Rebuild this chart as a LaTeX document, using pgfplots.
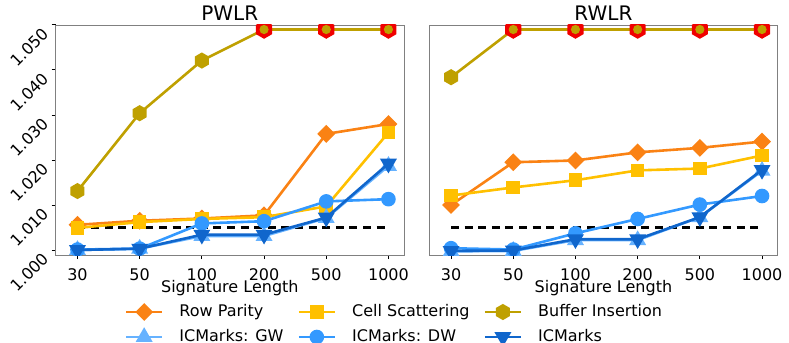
\documentclass[border=0pt]{standalone}
\usepackage{fontspec}
\setmainfont{DejaVu Sans}
\usepackage{pgfplots}
\usepackage{pgfplotstable}
\pgfplotsset{compat=1.18}

\definecolor{rpcol}{RGB}{250,130,20}
\definecolor{cscol}{RGB}{255,192,0}
\definecolor{bicol}{RGB}{191,160,0}
\definecolor{gwcol}{RGB}{102,178,255}
\definecolor{dwcol}{RGB}{51,153,255}
\definecolor{iccol}{RGB}{16,102,204}
\definecolor{capred}{RGB}{240,0,0}

% pointy-top hexagon, like matplotlib's 'h'
\pgfdeclareplotmark{hexa*}{%
  \pgfpathmoveto{\pgfqpointpolar{90}{\pgfplotmarksize}}%
  \pgfpathlineto{\pgfqpointpolar{150}{\pgfplotmarksize}}%
  \pgfpathlineto{\pgfqpointpolar{210}{\pgfplotmarksize}}%
  \pgfpathlineto{\pgfqpointpolar{270}{\pgfplotmarksize}}%
  \pgfpathlineto{\pgfqpointpolar{330}{\pgfplotmarksize}}%
  \pgfpathlineto{\pgfqpointpolar{30}{\pgfplotmarksize}}%
  \pgfpathclose
  \pgfusepathqfillstroke}

% x: 0..5 = 30,50,100,200,500,1000
\pgfplotstableread{
x rp cs bi gw dw ic
0 1.0056 1.0049 1.0131 1.0000 1.0001 1.0000
1 1.0065 1.0062 1.0304 1.0003 1.0003 1.0003
2 1.0070 1.0069 1.0421 1.0031 1.0059 1.0034
3 1.0077 1.0073 1.0490 1.0031 1.0064 1.0034
4 1.0258 1.0097 1.0490 1.0071 1.0108 1.0072
5 1.0280 1.0261 1.0490 1.0187 1.0113 1.0192
}\pwlr

\pgfplotstableread{
x rp cs bi gw dw ic
0 1.0100 1.0121 1.0384 0.9997 1.0004 0.9998
1 1.0195 1.0139 1.0490 0.9998 1.0001 0.9999
2 1.0199 1.0155 1.0490 1.0022 1.0037 1.0024
3 1.0217 1.0177 1.0490 1.0022 1.0069 1.0024
4 1.0227 1.0181 1.0490 1.0073 1.0101 1.0073
5 1.0241 1.0210 1.0490 1.0176 1.0120 1.0178
}\rwlr

\pgfplotsset{
  panel/.style={
    width=174.15pt, height=115pt, scale only axis,
    xmin=-0.35, xmax=5.25, ymin=0.99889, ymax=1.05,
    xtick={0,1,2,3,4,5}, xticklabels={30,50,100,200,500,1000},
    ytick={1.000,1.010,1.020,1.030,1.040,1.050},
    /pgf/number format/.cd, fixed, fixed zerofill, precision=3, assume math mode=true,
    /pgfplots/.cd,
    tick label style={font=\fontsize{8}{9.6}\selectfont},
    xticklabel style={anchor=base, yshift=-10.5pt},
    yticklabel style={rotate=45, anchor=center, xshift=-15.5pt},
    label style={font=\fontsize{8}{9.6}\selectfont},
    xlabel={Signature Length},
    xlabel style={at={(0.5,0)}, anchor=base, yshift=-18.5pt},
    title style={font=\fontsize{10}{12}\selectfont, at={(0.5,1)}, anchor=base, yshift=-3.6pt},
    axis line style={gray},
    tick style={black, line width=0.5pt},
    major tick length=2pt, tick align=outside, tick pos=left,
    clip marker paths=true,
    every axis plot/.append style={line width=1.3pt},
  },
  rp/.style={rpcol, mark=square*, mark size=2.5pt, mark options={rotate=45, fill=rpcol, draw=rpcol}},
  cs/.style={cscol, mark=square*, mark size=2.75pt, mark options={fill=cscol, draw=cscol}},
  bi/.style={bicol, mark=hexa*, mark size=3.3pt, mark options={fill=bicol, draw=bicol}},
  cap/.style={only marks, forget plot, mark=hexa*, mark size=3.9pt, mark options={fill=capred, draw=capred}},
  capin/.style={only marks, forget plot, mark=*, mark size=1.6pt, mark options={fill=bicol, draw=bicol}},
  gw/.style={gwcol, mark=triangle*, mark size=3.6pt, mark options={fill=gwcol, draw=gwcol}},
  dw/.style={dwcol, mark=*, mark size=3pt, mark options={fill=dwcol, draw=dwcol}},
  ic/.style={iccol, mark=triangle*, mark size=3.6pt, mark options={rotate=180, fill=iccol, draw=iccol}},
  thr/.style={black, dash pattern=on 4pt off 2.8pt, line width=1.1pt, forget plot},
}

\begin{document}
\begin{tikzpicture}
\begin{axis}[panel, title={PWLR},
    legend columns=3,
    legend style={draw=none, fill=none, at={(0.9756,-0.3022)}, anchor=center,
      font=\fontsize{8}{9.6}\selectfont,
      nodes={text height=6pt, text depth=1.8pt, inner sep=2pt},
      row sep=0.7pt,
      /tikz/every odd column/.append style={column sep=6pt},
      /tikz/every even column/.append style={column sep=5pt}},
    legend cell align=left,
    legend image code/.code={\draw[mark repeat=2, mark phase=2] plot coordinates {(0pt,0pt) (9pt,0pt) (18pt,0pt)};},
  ]
\addplot[thr] coordinates {(0,1.005) (5,1.005)};
\addplot[rp] table[x=x, y=rp] {\pwlr};
\addlegendentry{Row Parity}
\addplot[cs] table[x=x, y=cs] {\pwlr};
\addlegendentry{Cell Scattering}
\addplot[bi] table[x=x, y=bi] {\pwlr};
\addlegendentry{Buffer Insertion}
\addplot[cap, restrict y to domain=1.0485:1.06] table[x=x, y=bi] {\pwlr};
\addplot[capin, restrict y to domain=1.0485:1.06] table[x=x, y=bi] {\pwlr};
\addplot[gw] table[x=x, y=gw] {\pwlr};
\addlegendentry{ICMarks: GW}
\addplot[dw] table[x=x, y=dw] {\pwlr};
\addlegendentry{ICMarks: DW}
\addplot[ic] table[x=x, y=ic] {\pwlr};
\addlegendentry{ICMarks}
\end{axis}

\begin{axis}[panel, title={RWLR}, at={(186.8pt,0pt)},
    yticklabels={}, ytick style={draw=none}]
\addplot[thr] coordinates {(0,1.005) (5,1.005)};
\addplot[rp] table[x=x, y=rp] {\rwlr};
\addplot[cs] table[x=x, y=cs] {\rwlr};
\addplot[bi] table[x=x, y=bi] {\rwlr};
\addplot[cap, restrict y to domain=1.0485:1.06] table[x=x, y=bi] {\rwlr};
\addplot[capin, restrict y to domain=1.0485:1.06] table[x=x, y=bi] {\rwlr};
\addplot[gw] table[x=x, y=gw] {\rwlr};
\addplot[dw] table[x=x, y=dw] {\rwlr};
\addplot[ic] table[x=x, y=ic] {\rwlr};
\end{axis}
\pgfresetboundingbox
\path[use as bounding box] (-27.85pt,-44pt) rectangle (366.65pt,127.5pt);
\end{tikzpicture}
\end{document}
